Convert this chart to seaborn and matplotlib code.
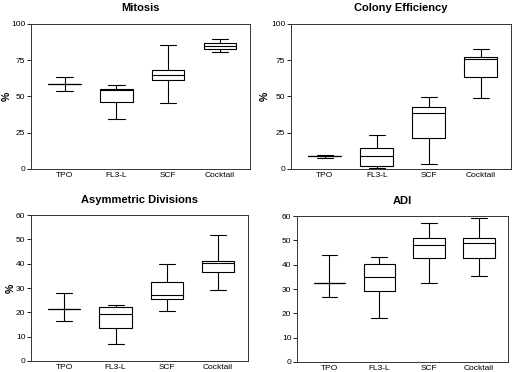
import pandas as pd
import seaborn as sns
import matplotlib.pyplot as plt

# each inner list: min, q1, median, q3, max
groups = ["TPO", "FL3-L", "SCF", "Cocktail"]

mitosis = [[54.1, 58.5, 58.5, 58.5, 63.3],
           [34.6, 46.1, 54.5, 55.0, 57.6],
           [45.4, 61.2, 65.1, 68.1, 85.8],
           [80.7, 82.6, 84.9, 86.9, 89.4]]
colony = [[7.8, 9.2, 9.2, 9.2, 9.6],
          [0.5, 2.3, 8.9, 14.4, 23.4],
          [3.2, 21.1, 38.8, 42.4, 49.5],
          [48.9, 63.3, 75.7, 77.1, 82.8]]
asym = [[16.6, 21.5, 21.5, 21.5, 27.9],
        [7.0, 13.5, 19.4, 22.1, 23.2],
        [20.5, 25.4, 27.0, 32.6, 40.0],
        [29.2, 36.8, 40.2, 41.2, 51.8]]
adi = [[26.7, 32.6, 32.6, 32.6, 44.0],
       [18.1, 29.0, 34.9, 40.4, 43.0],
       [32.6, 42.7, 48.0, 50.8, 57.3],
       [35.3, 42.6, 48.8, 50.8, 59.3]]

titles = ["Mitosis", "Colony Efficiency", "Asymmetric Divisions", "ADI"]
panels = [mitosis, colony, asym, adi]
yticks = [[0, 25, 50, 75, 100], [0, 25, 50, 75, 100],
          [0, 10, 20, 30, 40, 50, 60], [0, 10, 20, 30, 40, 50, 60]]
ylabels = ["%", "%", "%", ""]

sns.set_style("ticks")
plt.rcParams["font.family"] = ["Liberation Sans", "DejaVu Sans"]
plt.rcParams["text.color"] = "black"
plt.rcParams["xtick.color"] = "black"
plt.rcParams["ytick.color"] = "black"

fig = plt.figure(figsize=(5.2, 3.72), dpi=100)
rects = [[0.0596, 0.5457, 0.421, 0.390],
         [0.5596, 0.5457, 0.423, 0.390],
         [0.0596, 0.0296, 0.417, 0.392],
         [0.5710, 0.0270, 0.406, 0.392]]
label_x = [-0.088, -0.095, -0.07, 0]

for rect, vals, title, yt, yl, lx in zip(rects, panels, titles, yticks, ylabels, label_x):
    ax = fig.add_axes(rect)
    rows = [(g, v) for g, five in zip(groups, vals) for v in five]
    df = pd.DataFrame(rows, columns=["group", "value"])
    sns.boxplot(data=df, x="group", y="value", ax=ax, whis=(0, 100),
                fill=False, color="black", linewidth=0.8, width=0.63,
                showfliers=False)
    ax.set_xlim(-0.65, 3.58)
    ax.set_ylim(yt[0], yt[-1])
    ax.set_yticks(yt)
    ax.set_xlabel("")
    ax.set_ylabel(yl, fontsize=7.5, fontweight="bold", color="black")
    ax.yaxis.set_label_coords(lx, 0.5)
    ax.set_title(title, fontsize=8, fontweight="bold", pad=9)
    ax.tick_params(axis="x", length=0, pad=2, labelsize=6)
    ax.tick_params(axis="y", length=3, width=0.6, pad=1, labelsize=6)
    for sp in ax.spines.values():
        sp.set_visible(True)
        sp.set_linewidth(0.7)
        sp.set_color("#333333")

fig.savefig("out.png", dpi=100)
